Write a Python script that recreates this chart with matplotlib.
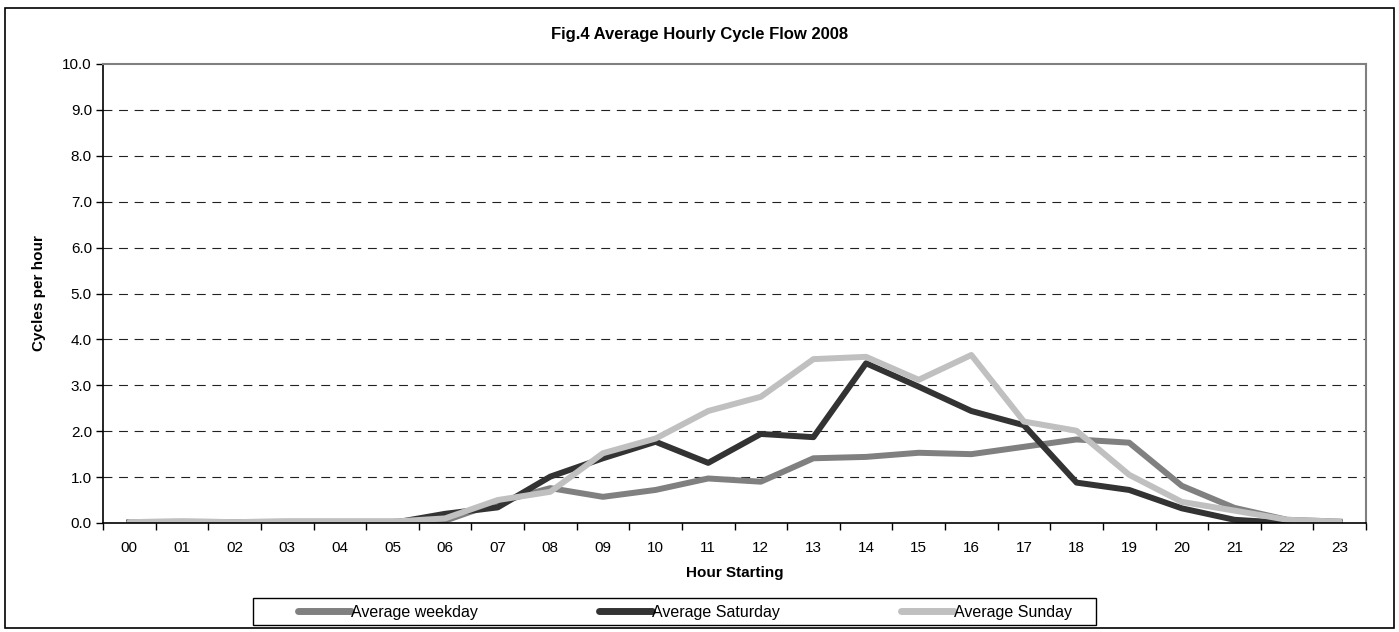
import matplotlib.pyplot as plt
from matplotlib.patches import Rectangle

plt.rcParams['font.family'] = ['Liberation Sans', 'DejaVu Sans']

hours = ["00", "01", "02", "03", "04", "05", "06", "07", "08", "09", "10", "11",
         "12", "13", "14", "15", "16", "17", "18", "19", "20", "21", "22", "23"]
weekday = [0.02, 0.03, 0.02, 0.03, 0.03, 0.03, 0.05, 0.45, 0.76, 0.57, 0.72, 0.97,
           0.90, 1.41, 1.44, 1.53, 1.50, 1.66, 1.82, 1.75, 0.81, 0.33, 0.07, 0.03]
saturday = [0.0, 0.0, 0.0, 0.0, 0.0, 0.0, 0.20, 0.34, 1.01, 1.41, 1.77, 1.31,
            1.94, 1.87, 3.48, 2.97, 2.44, 2.13, 0.88, 0.72, 0.32, 0.07, 0.0, 0.0]
sunday = [0.02, 0.03, 0.02, 0.03, 0.03, 0.03, 0.10, 0.50, 0.68, 1.52, 1.84, 2.44,
          2.75, 3.57, 3.62, 3.12, 3.66, 2.21, 2.01, 1.05, 0.46, 0.27, 0.07, 0.03]

fig = plt.figure(figsize=(13.99, 6.32), dpi=100)
ax = fig.add_axes([103 / 1399, 1 - 523 / 632, 1263 / 1399, 459 / 632])

x = list(range(len(hours)))
ax.plot(x, weekday, color='#808080', lw=4.3, label='Average weekday')
ax.plot(x, saturday, color='#333333', lw=4.3, label='Average Saturday')
ax.plot(x, sunday, color='#c0c0c0', lw=4.3, label='Average Sunday',
        solid_capstyle='round')

ax.set_xlim(-0.5, 23.5)
ax.set_ylim(0, 10)
ax.set_yticks([i for i in range(11)])
ax.set_yticklabels(["%.1f" % i for i in range(11)], fontsize=11)
ax.set_xticks([i - 0.5 for i in range(25)])
ax.set_xticklabels([])
ax.set_xticks(x, minor=True)
ax.set_xticklabels(hours, minor=True, fontsize=11)
ax.tick_params(axis='x', which='minor', length=0, pad=13)
ax.tick_params(axis='x', which='major', length=5, width=1, color='black')
ax.tick_params(axis='y', length=5, width=1, pad=3)

for v in range(1, 10):
    ax.axhline(v, color='#222222', lw=0.8, ls=(0, (8, 6)), zorder=0)

ax.spines['top'].set_color('#808080')
ax.spines['right'].set_color('#808080')
ax.spines['top'].set_linewidth(1.5)
ax.spines['right'].set_linewidth(1.5)
ax.spines['left'].set_linewidth(1.2)
ax.spines['bottom'].set_linewidth(1.2)

ax.set_xlabel('Hour Starting', fontsize=11, fontweight='bold', labelpad=8)
ax.set_ylabel('Cycles per hour', fontsize=11, fontweight='bold', labelpad=12)
fig.text(0.5, 1 - 34 / 632, 'Fig.4 Average Hourly Cycle Flow 2008', ha='center',
         va='center', fontsize=12, fontweight='bold')

# legend entries without frame, box drawn separately
leg = fig.legend(loc='center left', bbox_to_anchor=(298 / 1399, 1 - 612 / 632),
                 ncol=3, fontsize=11.5, frameon=False,
                 handlelength=3.3, handletextpad=0.0, columnspacing=7.6,
                 borderpad=0.0, borderaxespad=0.0)
for h in leg.get_lines():
    h.set_linewidth(5)
    h.set_solid_capstyle('round')

fig.patches.append(Rectangle((253 / 1399, 1 - 625 / 632), 843 / 1399, 27 / 632,
                             transform=fig.transFigure, fill=False,
                             edgecolor='black', lw=1.0))
fig.patches.append(Rectangle((5 / 1399, 4 / 632), 1389 / 1399, 620 / 632,
                             transform=fig.transFigure, fill=False,
                             edgecolor='black', lw=1.2))

fig.savefig('out.png', dpi=100)
